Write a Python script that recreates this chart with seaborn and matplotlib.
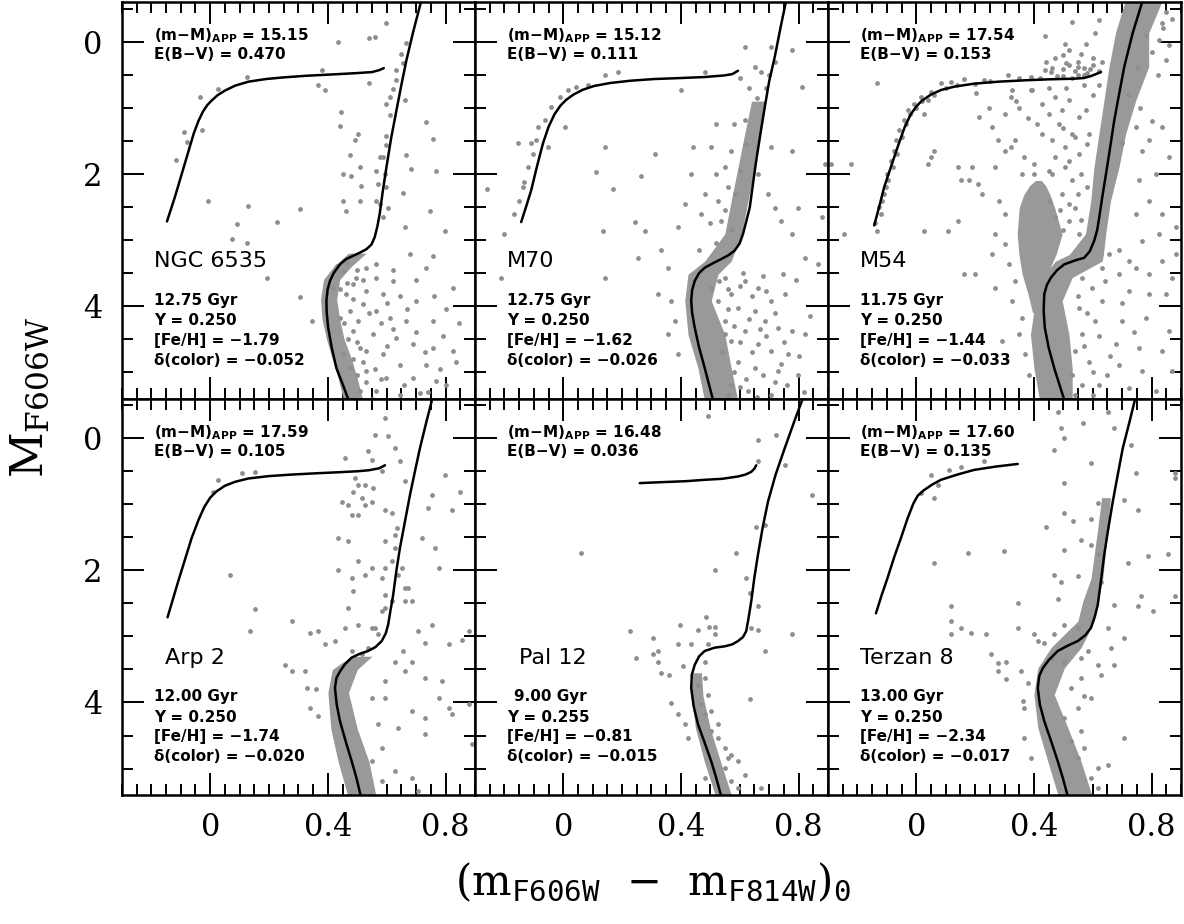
import numpy as np
import pandas as pd
import matplotlib
matplotlib.use("Agg")
import matplotlib.pyplot as plt
from matplotlib.ticker import MultipleLocator, FuncFormatter
import seaborn as sns

sns.set_theme(style="white")
plt.rcParams['font.family'] = ['DejaVu Serif']
plt.rcParams['mathtext.fontset'] = 'dejavuserif'
plt.rcParams.update({'text.color': 'black', 'xtick.color': 'black', 'ytick.color': 'black',
                     'axes.edgecolor': 'black', 'axes.labelcolor': 'black'})

GREY = '#8e8e8e'
BAND_GREY = '#999999'

# ---------------- annotation values ----------------
cluster_names = ["NGC 6535", "M70", "M54", "Arp 2", "Pal 12", "Terzan 8"]
dist_moduli = ["15.15", "15.12", "17.54", "17.59", "16.48", "17.60"]
reddenings = ["0.470", "0.111", "0.153", "0.105", "0.036", "0.135"]
ages = ["12.75", "12.75", "11.75", "12.00", "9.00", "13.00"]
helium = ["0.250", "0.250", "0.250", "0.250", "0.255", "0.250"]
metallicities = ["\u22121.79", "\u22121.62", "\u22121.44", "\u22121.74", "\u22120.81", "\u22122.34"]
color_shifts = ["\u22120.052", "\u22120.026", "\u22120.033", "\u22120.020", "\u22120.015", "\u22120.017"]

# ---------------- NGC 6535 ----------------
ngc6535_hb = [(-0.147, 2.72), (-0.12, 2.35), (-0.10, 2.05), (-0.078, 1.72), (-0.056, 1.39), (-0.04, 1.20),
              (-0.025, 1.06), (-0.01, 0.96), (0.005, 0.89), (0.025, 0.81), (0.05, 0.74), (0.085, 0.665),
              (0.13, 0.605), (0.19, 0.565), (0.25, 0.54), (0.33, 0.515), (0.418, 0.495), (0.50, 0.475),
              (0.55, 0.46), (0.575, 0.43), (0.59, 0.40)]
ngc6535_iso = [(0.47, 5.42), (0.45, 5.18), (0.429, 4.94), (0.413, 4.63), (0.401, 4.33), (0.396, 4.10),
               (0.395, 3.92), (0.399, 3.75), (0.407, 3.62), (0.42, 3.50), (0.441, 3.37), (0.462, 3.29),
               (0.486, 3.24), (0.51, 3.19), (0.531, 3.14), (0.548, 3.07), (0.559, 2.96), (0.568, 2.80),
               (0.576, 2.61), (0.587, 2.25), (0.599, 1.90), (0.615, 1.46), (0.633, 1.04), (0.650, 0.65),
               (0.667, 0.28), (0.69, -0.15), (0.718, -0.63)]
ngc6535_band = [(3.20, 0.47, 0.53), (3.40, 0.42, 0.48), (3.60, 0.385, 0.44), (3.90, 0.375, 0.43),
                (4.20, 0.38, 0.44), (4.50, 0.395, 0.455), (4.80, 0.415, 0.48), (5.10, 0.435, 0.50),
                (5.45, 0.455, 0.52)]
ngc6535_stars = [(0.435, 0.00), (0.540, -0.05), (0.559, -0.07), (0.667, 0.02), (0.599, -0.28), (0.379, 0.43),
                 (0.367, 0.66), (0.390, 0.73), (0.540, 0.63), (0.633, 0.58), (0.655, 0.33), (0.621, 0.71),
                 (0.661, 0.89), (0.599, 0.94), (0.610, 1.11), (0.446, 1.06), (0.441, 1.27), (0.734, 1.22),
                 (0.757, 1.47), (0.503, 1.39), (0.492, 1.49), (0.599, 1.42), (0.599, 1.57), (0.475, 1.72),
                 (0.576, 1.75), (0.565, 1.95), (0.508, 1.90), (0.452, 2.00), (0.480, 2.03), (0.684, 1.92),
                 (0.768, 1.95), (0.667, 1.72), (0.655, 2.29), (0.514, 2.18), (0.508, 2.41), (0.452, 2.41),
                 (0.463, 2.56), (0.565, 2.41), (0.571, 2.15), (0.605, 2.51), (0.661, 2.81), (0.746, 2.56),
                 (0.797, 2.86), (-0.006, 2.41), (0.130, 2.48), (0.305, 2.53), (0.090, 2.76), (0.226, 2.73),
                 (0.073, 2.99), (0.124, 3.04), (-0.028, 1.34), (-0.090, 1.37), (-0.115, 1.79), (-0.034, 0.84),
                 (0.028, 0.71), (0.124, 0.53), (-0.079, 1.52),
                 (0.565, 3.37), (0.531, 3.42), (0.678, 3.22), (0.757, 3.24), (0.734, 3.42), (0.565, 3.57),
                 (0.621, 3.62), (0.486, 3.67), (0.531, 3.77), (0.588, 3.82), (0.644, 3.85), (0.701, 3.92),
                 (0.825, 3.72), (0.520, 3.97), (0.565, 4.08), (0.475, 4.08), (0.610, 4.18), (0.667, 4.23),
                 (0.757, 4.23), (0.847, 4.25), (0.486, 4.38), (0.554, 4.43), (0.633, 4.48), (0.689, 4.58),
                 (0.757, 4.63), (0.508, 4.63), (0.588, 4.73), (0.644, 4.89), (0.734, 4.89), (0.825, 4.68),
                 (0.836, 4.84), (0.531, 4.99), (0.599, 5.09), (0.689, 5.09), (0.768, 5.14), (0.802, 5.19),
                 (0.508, 5.29), (0.565, 5.29), (0.644, 5.34), (0.712, 5.32), (0.305, 3.87), (0.345, 4.23),
                 (0.192, 3.57), (0.452, 3.47), (0.497, 3.57), (0.463, 3.82), (0.418, 3.72), (0.441, 4.18),
                 (0.503, 4.23), (0.531, 4.68), (0.452, 4.73), (0.475, 4.94),
                 (0.588, 1.75), (0.593, 2.00), (0.599, 2.20), (0.576, 2.46), (0.588, 2.66), (0.610, 0.84),
                 (0.633, 0.43), (0.650, 0.18),
                 (0.43, 3.40), (0.465, 3.35), (0.50, 3.45), (0.52, 3.60), (0.465, 3.65), (0.44, 3.75),
                 (0.485, 3.90), (0.455, 4.25), (0.47, 4.50), (0.50, 4.55), (0.485, 4.80), (0.52, 4.85),
                 (0.50, 5.05), (0.53, 5.15), (0.55, 5.40), (0.58, 5.10), (0.56, 4.95), (0.60, 4.60),
                 (0.62, 4.35), (0.58, 4.25), (0.54, 4.10), (0.60, 3.95), (0.67, 4.05), (0.70, 4.40),
                 (0.73, 4.70), (0.78, 4.95), (0.66, 5.20), (0.74, 5.30), (0.79, 4.45), (0.62, 3.45),
                 (0.70, 3.60), (0.76, 3.85), (0.80, 4.05)]

# ---------------- M70 ----------------
m70_hb = [(-0.143, 2.73), (-0.125, 2.48), (-0.109, 2.25), (-0.09, 1.90), (-0.069, 1.54), (-0.05, 1.29),
          (-0.03, 1.10), (-0.01, 0.97), (0.01, 0.88), (0.035, 0.80), (0.065, 0.73), (0.105, 0.67),
          (0.16, 0.625), (0.23, 0.59), (0.31, 0.565), (0.40, 0.55), (0.48, 0.535), (0.549, 0.51),
          (0.575, 0.49), (0.594, 0.44)]
m70_iso = [(0.509, 5.42), (0.495, 5.18), (0.481, 4.94), (0.462, 4.63), (0.447, 4.33), (0.438, 4.10),
           (0.435, 3.92), (0.438, 3.76), (0.447, 3.62), (0.462, 3.50), (0.481, 3.42), (0.51, 3.35),
           (0.537, 3.29), (0.562, 3.23), (0.583, 3.16), (0.60, 3.05), (0.611, 2.91), (0.622, 2.72),
           (0.634, 2.51), (0.645, 2.15), (0.656, 1.80), (0.670, 1.40), (0.685, 0.99), (0.70, 0.60),
           (0.719, 0.23), (0.738, -0.20), (0.758, -0.63)]
m70_band = [(0.90, 0.64, 0.685), (1.39, 0.617, 0.668), (1.90, 0.594, 0.651), (2.41, 0.571, 0.628),
            (2.91, 0.549, 0.606), (3.32, 0.481, 0.571), (3.52, 0.424, 0.526), (3.92, 0.413, 0.503),
            (4.43, 0.424, 0.549), (4.94, 0.458, 0.571), (5.45, 0.481, 0.594)]
m70_stars = [(-0.154, 1.54), (-0.132, 2.13), (-0.120, 1.90), (-0.103, 1.70), (-0.092, 1.49), (-0.086, 1.29),
             (-0.063, 1.19), (-0.041, 0.99), (-0.012, 0.84), (0.016, 0.73), (-0.166, 2.61), (-0.149, 2.41),
             (-0.137, 2.20), (-0.109, 1.54), (-0.052, 1.59), (0.005, 1.29), (0.141, 1.59), (0.186, 0.46),
             (0.141, 0.51), (0.401, 0.73), (0.481, 0.46), (-0.259, 2.23), (-0.20, 2.91), (-0.211, 3.57),
             (0.112, 1.97), (0.169, 2.23), (0.311, 1.70), (0.265, 2.03), (0.135, 2.86), (0.141, 3.57),
             (0.277, 2.86), (0.243, 2.73), (0.333, 3.16), (0.254, 3.27), (0.356, 3.42), (0.045, 0.69),
             (0.085, 0.66),
             (0.617, 0.08), (0.651, 0.38), (0.673, 0.46), (0.707, 0.08), (0.776, 0.13), (0.810, 0.68),
             (0.889, 1.85), (0.878, 2.66), (0.798, 2.51), (0.776, 2.91), (0.821, 3.27), (0.866, 3.37),
             (0.747, 3.52), (0.776, 1.65), (0.707, 1.59), (0.662, 2.0), (0.696, 2.30), (0.719, 2.51),
             (0.741, 2.71), (0.617, 1.19), (0.571, 1.65), (0.549, 1.90), (0.503, 1.59), (0.481, 2.30),
             (0.469, 2.61), (0.413, 2.46), (0.390, 2.81), (0.435, 2.00), (0.526, 2.41), (0.537, 2.71),
             (0.583, 2.30), (0.70, 0.50), (0.69, 0.70), (0.66, 0.85), (0.72, 0.30),
             (0.617, 3.62), (0.662, 3.72), (0.707, 3.92), (0.753, 3.82), (0.571, 3.82), (0.594, 4.03),
             (0.651, 4.08), (0.685, 4.23), (0.730, 4.33), (0.776, 4.38), (0.821, 4.43), (0.617, 4.38),
             (0.549, 4.23), (0.571, 4.53), (0.662, 4.58), (0.707, 4.68), (0.764, 4.73), (0.594, 4.84),
             (0.651, 4.94), (0.730, 4.99), (0.798, 5.04), (0.571, 5.19), (0.628, 5.29), (0.707, 5.34),
             (0.549, 4.43), (0.526, 3.92), (0.503, 3.72), (0.549, 3.57), (0.322, 3.82), (0.367, 3.92),
             (0.379, 4.23), (0.356, 4.43), (0.390, 4.73),
             (0.53, 3.62), (0.56, 3.75), (0.60, 3.70), (0.64, 3.85), (0.69, 3.78), (0.72, 4.10),
             (0.67, 4.35), (0.63, 4.20), (0.58, 4.30), (0.60, 4.55), (0.64, 4.70), (0.69, 4.45),
             (0.75, 4.55), (0.80, 4.75), (0.74, 4.88), (0.68, 5.05), (0.62, 5.10), (0.66, 5.38),
             (0.76, 5.20), (0.82, 5.30), (0.58, 5.00), (0.61, 3.50), (0.68, 3.55), (0.79, 3.60),
             (0.84, 4.15), (0.56, 4.05), (0.54, 4.70), (0.56, 5.35), (0.60, 5.22), (0.72, 5.15),
             (0.52, 2.00), (0.56, 2.20), (0.55, 2.55), (0.50, 2.75), (0.57, 2.85), (0.52, 3.05),
             (0.46, 3.15), (0.60, 1.95), (0.62, 1.55), (0.58, 1.25), (0.63, 0.70), (0.60, 0.55),
             (0.52, 1.25), (0.44, 1.60)]

# ---------------- M54 ----------------
m54_hb = [(-0.143, 2.78), (-0.125, 2.48), (-0.109, 2.20), (-0.085, 1.88), (-0.063, 1.59), (-0.04, 1.30),
          (-0.02, 1.11), (0.0, 0.98), (0.02, 0.89), (0.05, 0.80), (0.085, 0.73), (0.13, 0.68),
          (0.197, 0.635), (0.28, 0.605), (0.367, 0.585), (0.45, 0.57), (0.537, 0.56), (0.57, 0.55),
          (0.594, 0.52), (0.628, 0.46)]
m54_iso = [(0.503, 5.42), (0.486, 5.18), (0.469, 4.94), (0.45, 4.63), (0.437, 4.33), (0.433, 4.08),
           (0.435, 3.82), (0.444, 3.68), (0.458, 3.57), (0.478, 3.46), (0.503, 3.37), (0.54, 3.31),
           (0.571, 3.27), (0.59, 3.17), (0.605, 3.01), (0.615, 2.85), (0.622, 2.66), (0.633, 2.33),
           (0.645, 2.00), (0.659, 1.60), (0.673, 1.19), (0.69, 0.78), (0.707, 0.38), (0.735, -0.12),
           (0.77, -0.63)]
m54_band = [(-0.62, 0.71, 0.836), (-0.13, 0.677, 0.79), (0.38, 0.655, 0.79), (0.89, 0.638, 0.746),
            (1.39, 0.621, 0.712), (1.90, 0.604, 0.689), (2.41, 0.593, 0.66), (2.91, 0.575, 0.644),
            (3.22, 0.52, 0.636), (3.32, 0.473, 0.632), (3.57, 0.428, 0.53), (3.92, 0.405, 0.496),
            (4.43, 0.388, 0.519), (4.94, 0.40, 0.53), (5.45, 0.42, 0.53)]
m54_plume = [(2.10, 0.405, 0.425), (2.18, 0.385, 0.44), (2.32, 0.365, 0.455), (2.51, 0.350, 0.47),
             (2.91, 0.343, 0.496), (3.22, 0.349, 0.475), (3.52, 0.36, 0.445), (3.82, 0.38, 0.43),
             (4.10, 0.395, 0.415)]
m54_stars = [(0.530, -0.30), (0.439, -0.08), (0.507, 0.03), (0.609, -0.13), (0.621, -0.33), (0.576, 0.03),
             (0.836, -0.28), (0.825, -0.03), (0.848, 0.28), (0.439, 0.43), (0.326, 0.73), (0.394, 0.73),
             (0.247, 1.01), (0.213, 1.14), (0.428, 0.94), (0.473, 0.84), (0.496, 1.04), (0.519, 0.89),
             (0.553, 1.14), (0.576, 1.04), (0.485, 1.24), (0.530, 1.39), (0.587, 1.39), (0.428, 1.39),
             (0.462, 1.49), (0.507, 1.59), (0.553, 1.70), (0.337, 1.49), (0.303, 1.65), (0.258, 1.29),
             (0.269, 1.90), (0.19, 1.90), (0.179, 2.10), (0.224, 2.30), (0.281, 2.41), (0.303, 2.61),
             (0.269, 2.91), (0.303, 3.06), (0.258, 3.22), (0.315, 3.37), (0.201, 3.52), (0.337, 3.62),
             (0.269, 3.72), (0.326, 3.92), (0.360, 4.18), (0.349, 4.43), (0.292, 4.53), (0.371, 4.73),
             (0.383, 5.04), (0.462, 2.00), (0.507, 1.90), (0.530, 2.10), (0.496, 2.30), (0.541, 2.51),
             (0.519, 2.71), (0.553, 2.91), (0.451, 2.41), (0.473, 2.66),
             (0.70, 1.54), (0.746, 1.29), (0.768, 1.65), (0.791, 1.49), (0.836, 1.29), (0.859, 1.75),
             (0.814, 2.00), (0.757, 2.10), (0.791, 2.41), (0.746, 2.61), (0.836, 2.61), (0.882, 2.81),
             (0.825, 2.91), (0.768, 3.01), (0.689, 3.16), (0.723, 3.32), (0.689, 3.52), (0.746, 3.42),
             (0.791, 3.52), (0.836, 3.32), (0.882, 3.22), (0.870, 3.57), (0.643, 3.62), (0.723, 3.77),
             (0.791, 3.82), (0.848, 3.82), (0.632, 3.92), (0.553, 4.03), (0.609, 4.23), (0.700, 4.23),
             (0.780, 4.18), (0.859, 4.38), (0.564, 4.43), (0.678, 4.58), (0.757, 4.63), (0.836, 4.68),
             (0.587, 4.84), (0.689, 4.89), (0.768, 4.99), (0.870, 4.99), (0.621, 5.19), (0.723, 5.24),
             (0.814, 5.29), (0.564, 5.19), (0.541, 4.68), (0.530, 5.04), (0.564, 3.57), (0.598, 3.72),
             (0.632, 3.42), (0.655, 3.22), (0.85, -0.45), (0.87, -0.35), (0.84, -0.20), (0.86, 0.05),
             (-0.132, 2.86), (-0.120, 2.61), (-0.115, 2.41), (-0.103, 2.20), (-0.098, 2.0), (-0.086, 1.80),
             (-0.075, 1.65), (-0.069, 1.49), (-0.058, 1.34), (-0.041, 1.19), (-0.029, 1.04), (-0.007, 0.94),
             (0.016, 0.84), (0.050, 0.76), (0.084, 0.63), (0.118, 0.61), (0.163, 0.56), (0.231, 0.58),
             (0.311, 0.51), (0.390, 0.53), (0.458, 0.46), (-0.132, 0.63), (-0.222, 1.85), (-0.29, 1.85),
             (-0.245, 2.91), (0.039, 0.89), (0.027, 1.09), (0.050, 1.75), (0.061, 1.65), (0.039, 1.85),
             (0.141, 1.90), (0.152, 2.10), (0.209, 2.15), (0.141, 2.71), (0.027, 2.86), (0.163, 3.52),
             (0.107, 2.86), (0.203, 0.78), (0.322, 0.84), (0.390, 0.73), (0.277, 1.49), (0.322, 1.59),
             (0.367, 1.75), (-0.14, 2.75), (-0.125, 2.50), (-0.11, 2.30), (-0.095, 2.10), (-0.08, 1.90),
             (-0.065, 1.70), (-0.05, 1.45), (-0.035, 1.25), (-0.02, 1.10), (0.0, 1.00), (0.02, 0.90),
             (0.06, 0.80), (0.10, 0.70), (0.14, 0.66), (0.20, 0.64), (0.25, 0.60), (0.35, 0.55),
             (0.42, 0.55), (0.50, 0.52), (0.55, 0.50),
             (0.44, 0.30), (0.47, 0.25), (0.50, 0.20), (0.52, 0.35), (0.55, 0.30), (0.57, 0.40),
             (0.60, 0.35), (0.62, 0.45), (0.58, 0.47), (0.54, 0.45), (0.50, 0.42), (0.46, 0.40),
             (0.48, 0.52), (0.53, 0.55), (0.60, 0.25), (0.63, 0.30), (0.56, 0.18), (0.52, 0.12),
             (0.59, 0.42), (0.55, 0.38), (0.51, 0.33), (0.57, 0.50),
             (0.35, 1.00), (0.38, 1.15), (0.41, 1.25), (0.45, 1.10), (0.50, 1.30), (0.54, 1.45),
             (0.58, 1.55), (0.47, 1.75), (0.52, 1.80), (0.56, 2.00), (0.58, 2.20), (0.55, 2.30),
             (0.52, 2.45), (0.49, 2.55), (0.50, 2.85), (0.56, 2.70), (0.45, 1.95), (0.40, 1.85),
             (0.36, 2.00), (0.40, 2.00), (0.60, 0.80), (0.57, 0.65), (0.62, 0.65), (0.45, 0.70),
             (0.51, 0.70), (0.34, 0.90), (0.30, 1.10), (0.75, 0.40), (0.80, 0.15), (0.78, -0.10),
             (0.82, 0.50), (0.72, 0.80), (0.76, 1.00), (0.80, 1.20), (0.55, 3.85), (0.58, 4.10),
             (0.62, 4.45), (0.57, 4.60), (0.60, 5.00), (0.65, 5.05), (0.66, 4.75), (0.54, 5.35),
             (0.60, 5.35), (0.70, 3.95), (0.74, 4.40)]

# ---------------- Arp 2 ----------------
arp2_hb = [(-0.145, 2.71), (-0.127, 2.44), (-0.109, 2.17), (-0.086, 1.84), (-0.063, 1.51), (-0.04, 1.24),
           (-0.02, 1.04), (0.0, 0.90), (0.02, 0.81), (0.05, 0.72), (0.085, 0.66), (0.13, 0.61),
           (0.197, 0.575), (0.28, 0.55), (0.367, 0.53), (0.44, 0.515), (0.503, 0.50), (0.54, 0.485),
           (0.575, 0.455), (0.594, 0.41)]
arp2_iso = [(0.512, 5.42), (0.497, 5.14), (0.481, 4.89), (0.46, 4.58), (0.441, 4.28), (0.430, 4.03),
            (0.424, 3.78), (0.429, 3.63), (0.441, 3.53), (0.458, 3.42), (0.481, 3.32), (0.51, 3.26),
            (0.537, 3.22), (0.562, 3.16), (0.583, 3.07), (0.597, 2.95), (0.605, 2.82), (0.613, 2.60),
            (0.622, 2.37), (0.633, 2.0), (0.645, 1.66), (0.662, 1.26), (0.679, 0.86), (0.696, 0.50),
            (0.713, 0.15), (0.735, -0.25), (0.758, -0.65)]
arp2_band = [(3.30, 0.48, 0.55), (3.50, 0.415, 0.50), (3.85, 0.40, 0.47), (4.40, 0.41, 0.50),
             (4.90, 0.435, 0.54), (5.45, 0.47, 0.565)]
arp2_stars = [(0.594, -0.30), (0.560, -0.05), (0.605, -0.03), (0.628, 0.15), (0.458, 0.30), (0.537, 0.20),
              (0.549, 0.33), (0.583, 0.50), (0.492, 0.60), (0.503, 0.71), (0.526, 0.71), (0.554, 0.76),
              (0.486, 0.81), (0.515, 0.91), (0.469, 1.01), (0.526, 1.01), (0.549, 0.96), (0.594, 1.08),
              (0.617, 1.13), (0.481, 1.16), (0.503, 1.16), (0.447, 0.96), (0.435, 1.51), (0.469, 1.56),
              (0.594, 1.56), (0.628, 1.46), (0.628, 1.66), (0.617, 1.86), (0.594, 1.96), (0.583, 2.12),
              (0.549, 1.96), (0.503, 1.86), (0.435, 1.99), (0.481, 2.12), (0.526, 2.07), (0.486, 2.32),
              (0.594, 2.37), (0.594, 2.57), (0.617, 2.47), (0.662, 2.47), (0.685, 2.47), (0.662, 2.27),
              (0.651, 1.96), (0.673, 2.27), (0.707, 2.92), (0.753, 2.82), (0.719, 1.51), (0.764, 1.66),
              (0.776, 1.96), (0.753, 0.86), (0.821, 1.08), (0.849, 0.81), (0.798, 0.55), (0.741, 1.06),
              (0.469, 2.57), (0.458, 2.87), (0.503, 2.82), (0.549, 2.87), (0.367, 2.92), (0.339, 2.95),
              (0.277, 2.77), (0.153, 2.59), (0.135, 2.92), (0.067, 2.07), (0.424, 3.07), (0.390, 3.12),
              (0.322, 3.53), (0.277, 3.53), (0.254, 3.43), (0.328, 3.78), (0.361, 3.80), (0.339, 4.08),
              (0.367, 4.21), (0.730, 3.10), (0.810, 3.12), (0.855, 3.05), (0.878, 2.92), (0.656, 3.22),
              (0.685, 3.38), (0.628, 3.38), (0.662, 3.53), (0.730, 3.63), (0.787, 3.68), (0.594, 3.68),
              (0.594, 3.93), (0.549, 3.93), (0.776, 3.93), (0.810, 4.08), (0.821, 4.18), (0.685, 4.13),
              (0.730, 4.23), (0.571, 4.33), (0.640, 4.38), (0.730, 4.48), (0.583, 4.69), (0.549, 4.89),
              (0.628, 5.04), (0.583, 5.19), (0.685, 5.14), (0.707, 5.34), (0.878, 4.03), (0.889, 4.63),
              (0.645, 0.35), (0.662, 0.65), (0.634, 1.36), (0.640, 2.07), (0.583, 2.62), (0.560, 2.87),
              (0.571, 2.97), (0.537, 3.17), (0.481, 3.22), (0.515, 3.27), (0.027, 0.63), (0.107, 0.53),
              (0.152, 0.51), (0.010, 0.81)]

# ---------------- Pal 12 ----------------
pal12_hb = [(0.26, 0.68), (0.31, 0.67), (0.367, 0.66), (0.42, 0.65), (0.481, 0.63), (0.54, 0.615),
            (0.594, 0.58), (0.62, 0.55), (0.639, 0.51), (0.65, 0.46), (0.656, 0.41)]
pal12_iso = [(0.537, 5.42), (0.52, 5.14), (0.503, 4.89), (0.48, 4.60), (0.458, 4.33), (0.443, 4.05),
             (0.435, 3.78), (0.437, 3.58), (0.447, 3.43), (0.462, 3.30), (0.481, 3.22), (0.515, 3.17),
             (0.549, 3.15), (0.575, 3.12), (0.594, 3.07), (0.611, 3.01), (0.622, 2.92), (0.63, 2.72),
             (0.639, 2.47), (0.650, 2.10), (0.662, 1.76), (0.678, 1.35), (0.696, 0.96), (0.722, 0.55),
             (0.753, 0.15), (0.785, -0.25), (0.81, -0.55), (0.82, -0.65)]
pal12_band = [(3.55, 0.44, 0.47), (3.90, 0.435, 0.475), (4.40, 0.45, 0.50), (4.90, 0.48, 0.535),
              (5.45, 0.52, 0.575)]
pal12_stars = [(0.492, -0.33), (0.662, 0.03), (0.724, -0.05), (0.753, 0.40), (0.844, 0.86), (0.662, 0.35),
               (0.685, 1.31), (0.656, 1.34), (0.061, 1.74), (0.588, 1.74), (0.515, 1.99), (0.622, 2.12),
               (0.634, 2.34), (0.662, 2.54), (0.396, 2.82), (0.486, 2.70), (0.497, 2.85), (0.515, 2.85),
               (0.458, 2.90), (0.515, 2.97), (0.226, 2.92), (0.305, 3.02), (0.390, 3.12), (0.435, 3.12),
               (0.492, 3.12), (0.639, 2.87), (0.662, 2.90), (0.776, 2.97), (0.685, 3.22), (0.322, 3.22),
               (0.305, 3.27), (0.248, 3.32), (0.322, 3.38), (0.333, 3.55), (0.361, 3.58), (0.407, 3.45),
               (0.481, 3.38), (0.634, 3.95), (0.367, 4.01), (0.390, 4.18), (0.413, 4.33), (0.424, 4.53),
               (0.481, 3.63), (0.492, 3.88), (0.503, 4.13), (0.526, 4.33), (0.526, 4.53), (0.549, 4.69),
               (0.571, 4.79), (0.594, 4.89), (0.617, 5.09), (0.549, 4.99), (0.571, 5.19), (0.481, 5.14),
               (0.594, 5.29), (0.673, 5.29), (0.469, 4.03), (0.458, 3.73), (0.481, 4.18), (0.503, 4.43),
               (0.560, 4.84)]

# ---------------- Terzan 8 ----------------
terzan8_hb = [(-0.137, 2.65), (-0.118, 2.38), (-0.098, 2.12), (-0.075, 1.80), (-0.052, 1.51), (-0.03, 1.22),
              (-0.01, 0.99), (0.005, 0.87), (0.025, 0.79), (0.055, 0.70), (0.084, 0.63), (0.14, 0.55),
              (0.197, 0.48), (0.27, 0.43), (0.345, 0.39)]
terzan8_iso = [(0.515, 5.42), (0.498, 5.14), (0.481, 4.89), (0.458, 4.58), (0.435, 4.28), (0.42, 4.03),
               (0.413, 3.78), (0.418, 3.60), (0.430, 3.48), (0.45, 3.36), (0.481, 3.22), (0.515, 3.14),
               (0.549, 3.07), (0.575, 2.98), (0.594, 2.87), (0.607, 2.70), (0.617, 2.52), (0.628, 2.15),
               (0.639, 1.76), (0.653, 1.36), (0.668, 0.96), (0.685, 0.55), (0.702, 0.15), (0.725, -0.25),
               (0.747, -0.65)]
terzan8_band = [(0.90, 0.63, 0.66), (1.36, 0.617, 0.651), (2.12, 0.594, 0.634), (2.47, 0.566, 0.617),
                (2.77, 0.549, 0.60), (2.97, 0.503, 0.583), (3.17, 0.458, 0.560), (3.48, 0.413, 0.503),
                (3.88, 0.40, 0.469), (4.38, 0.413, 0.515), (4.89, 0.447, 0.56), (5.45, 0.485, 0.60)]
terzan8_stars = [(0.481, -0.40), (0.492, -0.15), (0.566, -0.23), (0.503, 0.00), (0.651, -0.40), (0.673, -0.15),
                 (0.469, 0.18), (0.730, 0.10), (0.594, 0.38), (0.503, 0.68), (0.747, 0.53), (0.878, 0.53),
                 (0.878, 0.60), (0.617, 0.98), (0.707, 0.93), (0.753, 1.08), (0.503, 1.13), (0.532, 1.26),
                 (0.594, 1.23), (0.441, 1.34), (0.560, 1.54), (0.503, 1.69), (0.594, 1.61), (0.617, 1.76),
                 (0.719, 1.89), (0.787, 1.79), (0.855, 1.76), (0.469, 2.07), (0.492, 2.17), (0.549, 2.09),
                 (0.628, 2.17), (0.764, 2.39), (0.753, 2.54), (0.804, 2.62), (0.878, 2.39), (0.673, 2.52),
                 (0.481, 2.44), (0.345, 2.49), (0.118, 2.54), (0.175, 1.74), (0.299, 1.71), (0.061, 1.89),
                 (0.061, 0.91), (0.118, 2.77), (0.153, 2.87), (0.186, 2.95), (0.118, 2.97), (0.237, 2.97),
                 (0.345, 2.87), (0.401, 2.97), (0.435, 3.10), (0.413, 3.07), (0.469, 2.97), (0.503, 2.82),
                 (0.549, 2.87), (0.651, 2.87), (0.707, 3.02), (0.662, 3.17), (0.583, 3.22), (0.560, 3.32),
                 (0.617, 3.43), (0.673, 3.43), (0.628, 3.58), (0.560, 3.63), (0.503, 3.38), (0.458, 3.32),
                 (0.254, 3.27), (0.277, 3.40), (0.305, 3.38), (0.277, 3.53), (0.305, 3.65), (0.356, 3.53),
                 (0.379, 3.70), (0.362, 3.98), (0.367, 4.08), (0.526, 3.78), (0.571, 3.90), (0.594, 3.93),
                 (0.549, 4.08), (0.503, 4.23), (0.560, 4.43), (0.526, 4.58), (0.571, 4.69), (0.549, 4.84),
                 (0.617, 4.99), (0.651, 4.94), (0.594, 5.14), (0.617, 5.29), (0.707, 4.53), (0.367, 4.53),
                 (0.390, 4.84), (0.050, 0.55), (0.073, 0.71), (0.112, 0.48), (0.152, 0.43), (0.016, 0.83),
                 (0.231, 0.35)]

panels = [
    dict(hb=ngc6535_hb, iso=ngc6535_iso, bands=[ngc6535_band], stars=ngc6535_stars, name_x=-0.19, age_x=-0.19),
    dict(hb=m70_hb, iso=m70_iso, bands=[m70_band], stars=m70_stars, name_x=-0.19, age_x=-0.19),
    dict(hb=m54_hb, iso=m54_iso, bands=[m54_band, m54_plume], stars=m54_stars, name_x=-0.19, age_x=-0.19),
    dict(hb=arp2_hb, iso=arp2_iso, bands=[arp2_band], stars=arp2_stars, name_x=-0.155, age_x=-0.19),
    dict(hb=pal12_hb, iso=pal12_iso, bands=[pal12_band], stars=pal12_stars, name_x=-0.15, age_x=-0.168),
    dict(hb=terzan8_hb, iso=terzan8_iso, bands=[terzan8_band], stars=terzan8_stars, name_x=-0.19, age_x=-0.19),
]

fig, axes = plt.subplots(2, 3, figsize=(11.84, 9.24), dpi=100, sharex=True, sharey=True)
fig.subplots_adjust(left=0.103, right=0.9975, top=0.9978, bottom=0.1396, wspace=0, hspace=0)

def fmt(v, pos):
    if abs(v) < 1e-9:
        return "0"
    if abs(v - round(v)) < 1e-9:
        return "%d" % round(v)
    return "%.1f" % v

sans = dict(family='DejaVu Sans', fontweight='bold', fontsize=11, math_fontfamily='dejavusans',
            color='black', zorder=6)

for i, (ax, p) in enumerate(zip(axes.flat, panels)):
    for band in p['bands']:
        bdf = pd.DataFrame(band, columns=['y', 'lo', 'hi'])
        ax.fill_betweenx(bdf['y'], bdf['lo'], bdf['hi'], color=BAND_GREY, linewidth=0, zorder=1)
    sdf = pd.DataFrame(p['stars'], columns=['x', 'y'])
    sns.scatterplot(data=sdf, x='x', y='y', ax=ax, s=12, color=GREY, linewidth=0, zorder=2, legend=False)
    hdf = pd.DataFrame(p['hb'], columns=['x', 'y'])
    sns.lineplot(data=hdf, x='x', y='y', ax=ax, sort=False, estimator=None, color='black',
                 linewidth=1.8, zorder=4)
    idf = pd.DataFrame(p['iso'], columns=['x', 'y'])
    sns.lineplot(data=idf, x='x', y='y', ax=ax, sort=False, estimator=None, color='black',
                 linewidth=1.8, zorder=4)

    ax.set_xlim(-0.3, 0.9)
    ax.set_ylim(5.4, -0.6)
    ax.set_xlabel('')
    ax.set_ylabel('')
    ax.xaxis.set_major_locator(MultipleLocator(0.4))
    ax.xaxis.set_minor_locator(MultipleLocator(0.05))
    ax.yaxis.set_major_locator(MultipleLocator(2))
    ax.yaxis.set_minor_locator(MultipleLocator(0.5))
    ax.xaxis.set_major_formatter(FuncFormatter(fmt))
    ax.yaxis.set_major_formatter(FuncFormatter(fmt))
    ax.tick_params(which='both', direction='in', top=True, right=True, left=True, bottom=True,
                   width=1.4, color='black', labelcolor='black')
    ax.tick_params(which='major', length=16, labelsize=22)
    ax.tick_params(which='minor', length=8)
    ax.tick_params(axis='y', pad=14)
    ax.tick_params(axis='x', pad=12)
    for sp in ax.spines.values():
        sp.set_linewidth(1.8)
        sp.set_color('black')
        sp.set_zorder(10)

    ax.text(-0.19, -0.09, "(m\u2212M)$_{\\mathbf{APP}}$ = " + dist_moduli[i], va='center', ha='left', **sans)
    ax.text(-0.19, 0.20, "E(B\u2212V) = " + reddenings[i], va='center', ha='left', **sans)
    ax.text(p['name_x'], 3.32, cluster_names[i], va='center', ha='left', family='DejaVu Sans',
            fontsize=16, color='black', zorder=6)
    ax.text(p['age_x'], 3.91, ages[i] + " Gyr", va='center', ha='left', **sans)
    ax.text(-0.19, 4.22, "Y = " + helium[i], va='center', ha='left', **sans)
    ax.text(-0.19, 4.52, "[Fe/H] = " + metallicities[i], va='center', ha='left', **sans)
    ax.text(-0.19, 4.82, "\u03b4(color) = " + color_shifts[i], va='center', ha='left', **sans)

fig.text(0.026, 0.57, r'M$_{\mathrm{F606W}}$', rotation=90, va='center', ha='center', fontsize=32,
         color='black')
fig.text(0.551, 0.045, r'(m$_{\mathtt{F606W}}$  $-$  m$_{\mathtt{F814W}}$)$_{\mathtt{0}}$',
         va='center', ha='center', fontsize=30, color='black')

fig.savefig('out.png', dpi=100)
